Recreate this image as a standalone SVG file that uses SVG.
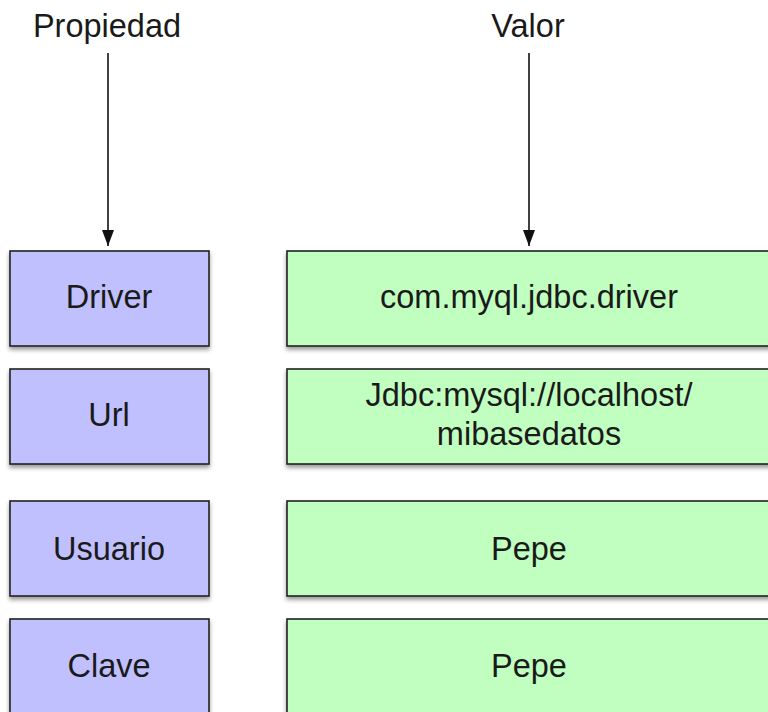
<svg xmlns="http://www.w3.org/2000/svg" width="768" height="712" viewBox="0 0 768 712">
<style>
text{font-family:"Liberation Sans",Arial,sans-serif;font-size:32.5px;fill:#1a1a1a;text-anchor:middle}
.p{fill:#c0c0ff;stroke:#222;stroke-width:1.6}
.v{fill:#c0ffc0;stroke:#222;stroke-width:1.6}
.c{stroke:#111;stroke-width:1.6;fill:none}
</style>
<defs>
<filter id="sh" x="-10%" y="-10%" width="120%" height="130%">
<feDropShadow dx="0" dy="3" stdDeviation="2" flood-color="#000" flood-opacity="0.4"/>
</filter>
<marker id="ah" viewBox="0 0 16 12" refX="16" refY="6" markerWidth="16" markerHeight="12" markerUnits="userSpaceOnUse" orient="auto">
<path d="M0,0 L16,6 L0,12 Z" fill="#111"/>
</marker>
</defs>
<text x="107" y="37">Propiedad</text>
<text x="528" y="37">Valor</text>
<g id="connectors">
<line class="c" x1="108" y1="53" x2="108" y2="246" marker-end="url(#ah)"/>
<line class="c" x1="529" y1="53" x2="529" y2="246" marker-end="url(#ah)"/>
</g>
<g id="driver"><rect class="p" x="10" y="251" width="199" height="95" filter="url(#sh)"/><text x="109" y="308">Driver</text></g>
<g id="url"><rect class="p" x="10" y="369" width="199" height="95" filter="url(#sh)"/><text x="109" y="426">Url</text></g>
<g id="usuario"><rect class="p" x="10" y="501" width="199" height="95" filter="url(#sh)"/><text x="109" y="560">Usuario</text></g>
<g id="clave"><rect class="p" x="10" y="619" width="199" height="120" filter="url(#sh)"/><text x="109" y="677">Clave</text></g>
<g id="driver-val"><rect class="v" x="287" y="251" width="520" height="95" filter="url(#sh)"/><text x="529" y="308">com.myql.jdbc.driver</text></g>
<g id="url-val"><rect class="v" x="287" y="369" width="520" height="95" filter="url(#sh)"/><text x="529" y="406">Jdbc:mysql://localhost/</text><text x="529" y="445">mibasedatos</text></g>
<g id="usuario-val"><rect class="v" x="287" y="501" width="520" height="95" filter="url(#sh)"/><text x="529" y="560">Pepe</text></g>
<g id="clave-val"><rect class="v" x="287" y="619" width="520" height="120" filter="url(#sh)"/><text x="529" y="677">Pepe</text></g>
</svg>
